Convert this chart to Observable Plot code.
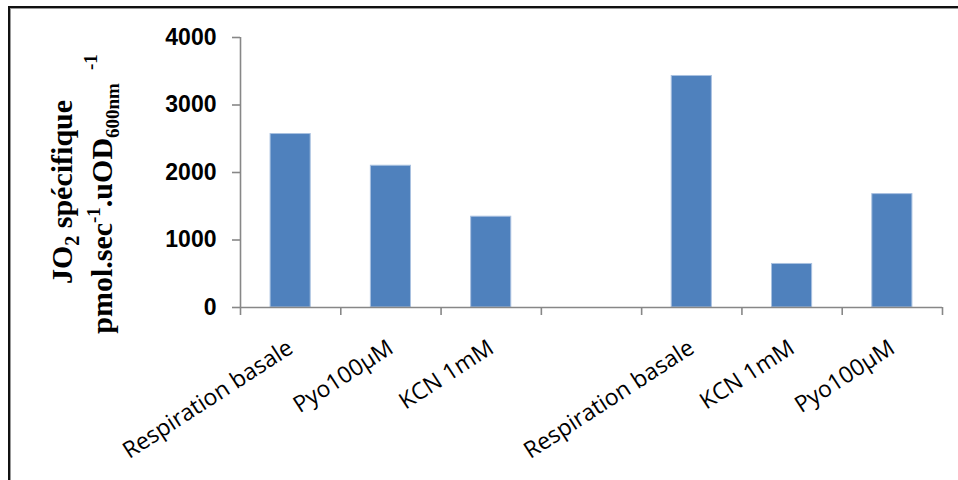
<!DOCTYPE html>
<html>
<head>
<meta charset="utf-8">
<script src="https://cdn.jsdelivr.net/npm/d3@7"></script>
<script src="https://cdn.jsdelivr.net/npm/@observablehq/plot@0.6"></script>
<style>
  html, body { margin: 0; padding: 0; background: #fff; }
  #wrap { position: relative; width: 958px; height: 480px; overflow: hidden; background: #fff; }
  #frame { position: absolute; left: 8px; top: 6px; right: -10px; bottom: -10px;
           border-top: 2px solid #111; border-left: 2px solid #111; box-shadow: 1px 1px 0 #999 inset; }
  #chart { position: absolute; left: 0; top: 0; }
</style>
</head>
<body>
<div id="wrap"><div id="frame"></div><div id="chart"></div></div>
<script>
// ---- data ----
const categories = ["Respiration basale", "Pyo100µM", "KCN 1mM", "", "Respiration basale", "KCN 1mM", "Pyo100µM"];
const values = [2570, 2100, 1345, null, 3430, 645, 1680];
const yTicks = [0, 1000, 2000, 3000, 4000];
const categoryBounds = d3.range(categories.length + 1);

const data = categories.map((label, i) => ({ i, label, value: values[i] }));
const bars = data.filter(d => d.value != null);

const chart = Plot.plot({
  width: 958,
  height: 480,
  marginLeft: 240,
  marginRight: 16,
  marginTop: 37,
  marginBottom: 173,
  style: { background: "transparent", overflow: "visible" },
  x: { type: "linear", domain: [0, categories.length], axis: null },
  y: { domain: [0, 4000], axis: null },
  marks: [
    Plot.rectY(bars, {
      x1: d => d.i + 0.3, x2: d => d.i + 0.7, y1: 0, y2: "value",
      fill: "#4F81BD", stroke: "#a9c1e0", strokeWidth: 1
    }),
    Plot.ruleX([0], { stroke: "#878787", strokeWidth: 1.6 }),
    Plot.ruleY([0], { stroke: "#878787", strokeWidth: 1.6 }),
    Plot.ruleX(categoryBounds, { y1: 0, y2: 0, insetBottom: -8, stroke: "#878787", strokeWidth: 1.6 }),
    Plot.axisY({
      ticks: yTicks, tickSize: 8, tickPadding: 16, label: null,
      tickFormat: d => String(d),
      fontSize: 23, fontWeight: "bold", fontFamily: "'Liberation Sans', Arial, sans-serif",
      stroke: "#878787", strokeWidth: 1.6, fill: "#000"
    }),
    Plot.text(data, {
      x: d => d.i + 0.5, y: 0, text: "label",
      rotate: -33, textAnchor: "end", lineAnchor: "middle",
      dx: 0, dy: 38,
      fontSize: 23, fontFamily: "'Open Sans', sans-serif", fill: "#000"
    })
  ]
});
document.getElementById("chart").appendChild(chart);

// ---- y-axis title with sub/superscripts ----
const svg = d3.select(chart);
const g = svg.append("g")
  .attr("font-family", "'Liberation Serif', 'Times New Roman', serif")
  .attr("font-weight", "bold")
  .attr("font-size", 30)
  .attr("fill", "#000");

const t1 = g.append("text")
  .attr("transform", "translate(72,192) rotate(-90)")
  .attr("text-anchor", "middle");
t1.append("tspan").text("JO");
t1.append("tspan").attr("dy", 7).attr("font-size", 20).text("2");
t1.append("tspan").attr("dy", -7).text(" spécifique");

const t2 = g.append("text")
  .attr("transform", "translate(112,194) rotate(-90)")
  .attr("text-anchor", "middle");
t2.append("tspan").text("pmol.sec");
t2.append("tspan").attr("dy", -12).attr("font-size", 19).text("-1");
t2.append("tspan").attr("dy", 12).text(".uOD");
t2.append("tspan").attr("dy", 7).attr("font-size", 19).text("600nm");
t2.append("tspan").attr("dy", -22).attr("dx", 13).attr("font-size", 19).text("-1");
</script>
</body>
</html>
